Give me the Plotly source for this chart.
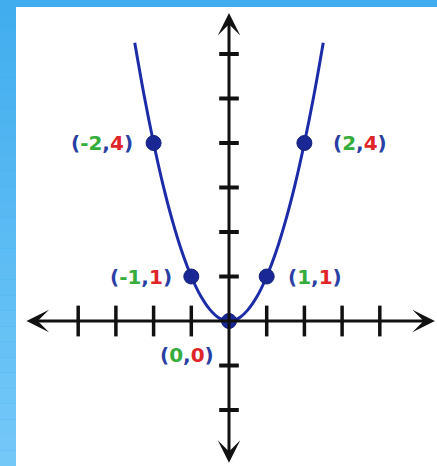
import plotly.graph_objects as go

# ---- data ----
curve_x = [-2.5, -2.25, -2.0, -1.75, -1.5, -1.25, -1.0, -0.75, -0.5, -0.25, 0.0,
           0.25, 0.5, 0.75, 1.0, 1.25, 1.5, 1.75, 2.0, 2.25, 2.5]
curve_y = [6.25, 5.06, 4.0, 3.06, 2.25, 1.56, 1.0, 0.56, 0.25, 0.06, 0.0,
           0.06, 0.25, 0.56, 1.0, 1.56, 2.25, 3.06, 4.0, 5.06, 6.25]
point_x = [-2, -1, 0, 1, 2]
point_y = [4, 1, 0, 1, 4]
point_x_text = ["-2", "-1", "0", "1", "2"]
point_y_text = ["4", "1", "0", "1", "4"]
x_ticks = [-4, -3, -2, -1, 1, 2, 3, 4]
y_ticks = [-2, -1, 1, 2, 3, 4, 5, 6]
x_axis_ends = [-5.41, 5.46]
y_axis_ends = [-3.22, 6.92]

# ---- styles ----
W, H = 437, 466
X_RANGE = [-6.074, 5.517]
Y_RANGE = [-3.258, 7.213]
CURVE = "#1c2ca8"
DOT = "#1a2896"
PAREN = "#2a3fa3"
GREEN = "#35ad3c"
RED = "#e0252a"
INK = "#111111"

fig = go.Figure()

# curve
fig.add_trace(go.Scatter(x=curve_x, y=curve_y, mode="lines",
                         line=dict(color=CURVE, width=3, shape="spline"),
                         hoverinfo="skip", showlegend=False))

# tick marks
fig.add_trace(go.Scatter(x=x_ticks, y=[0] * len(x_ticks), mode="markers",
                         marker=dict(symbol="line-ns-open", size=22, color=INK,
                                     line=dict(color=INK, width=3.5)),
                         hoverinfo="skip", showlegend=False))
fig.add_trace(go.Scatter(x=[0] * len(y_ticks), y=y_ticks, mode="markers",
                         marker=dict(symbol="line-ew-open", size=14, color=INK,
                                     line=dict(color=INK, width=4)),
                         hoverinfo="skip", showlegend=False))

# axes with arrows
annotations = []
annotations.append(dict(x=x_axis_ends[1], y=0, ax=x_axis_ends[0], ay=0,
                        xref="x", yref="y", axref="x", ayref="y", text="",
                        showarrow=True, arrowside="end+start",
                        arrowhead=3, startarrowhead=3, arrowsize=1.25,
                        startarrowsize=1.25, arrowwidth=3, arrowcolor=INK))
annotations.append(dict(x=0, y=y_axis_ends[1], ax=0, ay=y_axis_ends[0],
                        xref="x", yref="y", axref="x", ayref="y", text="",
                        showarrow=True, arrowside="end+start",
                        arrowhead=3, startarrowhead=3, arrowsize=1.25,
                        startarrowsize=1.25, arrowwidth=3, arrowcolor=INK))

# points
fig.add_trace(go.Scatter(x=point_x, y=point_y, mode="markers",
                         marker=dict(color=DOT, size=15,
                                     line=dict(color="#13207a", width=1)),
                         hoverinfo="skip", showlegend=False))

# point labels
placements = {  # (xanchor, xshift, yshift)
    -2: ("right", -19, 0),
    -1: ("right", -17, 0),
    0: ("right", -13, -34),
    1: ("left", 19, 0),
    2: ("left", 27, 0),
}
for px, py, tx, ty in zip(point_x, point_y, point_x_text, point_y_text):
    xa, xs, ys = placements[px]
    txt = (f"<span style='color:{PAREN}'>(</span>"
           f"<span style='color:{GREEN}'>{tx}</span>"
           f"<span style='color:{PAREN}'>,</span>"
           f"<span style='color:{RED}'>{ty}</span>"
           f"<span style='color:{PAREN}'>)</span>")
    annotations.append(dict(x=px, y=py, xref="x", yref="y", text=f"<b>{txt}</b>",
                            showarrow=False, xanchor=xa, yanchor="middle",
                            xshift=xs, yshift=ys,
                            font=dict(family="DejaVu Sans", size=20, color=PAREN)))

# background: blue gradient frame + white panel
shapes = []
n = 30
top = (0x41, 0xad, 0xee)
bot = (0x74, 0xc8, 0xf8)
for i in range(n):
    t = i / (n - 1)
    c = tuple(round(top[k] + (bot[k] - top[k]) * t) for k in range(3))
    shapes.append(dict(type="rect", xref="paper", yref="paper",
                       x0=0, x1=1, y0=1 - (i + 1) / n, y1=1 - i / n,
                       fillcolor="rgb(%d,%d,%d)" % c, line=dict(width=0),
                       layer="below"))
shapes.append(dict(type="rect", xref="paper", yref="paper",
                   x0=16 / W, x1=1, y0=0, y1=(H - 7) / H,
                   fillcolor="white", line=dict(width=0), layer="below"))

fig.update_layout(
    width=W, height=H,
    margin=dict(l=0, r=0, t=0, b=0),
    paper_bgcolor="#41adee",
    plot_bgcolor="rgba(0,0,0,0)",
    xaxis=dict(range=X_RANGE, visible=False, fixedrange=True),
    yaxis=dict(range=Y_RANGE, visible=False, fixedrange=True),
    shapes=shapes,
    annotations=annotations,
    showlegend=False,
)

fig.write_html("out.html", config={"displayModeBar": False},
               post_script="document.body.style.margin='0';"
                           "document.body.style.overflow='hidden';")
